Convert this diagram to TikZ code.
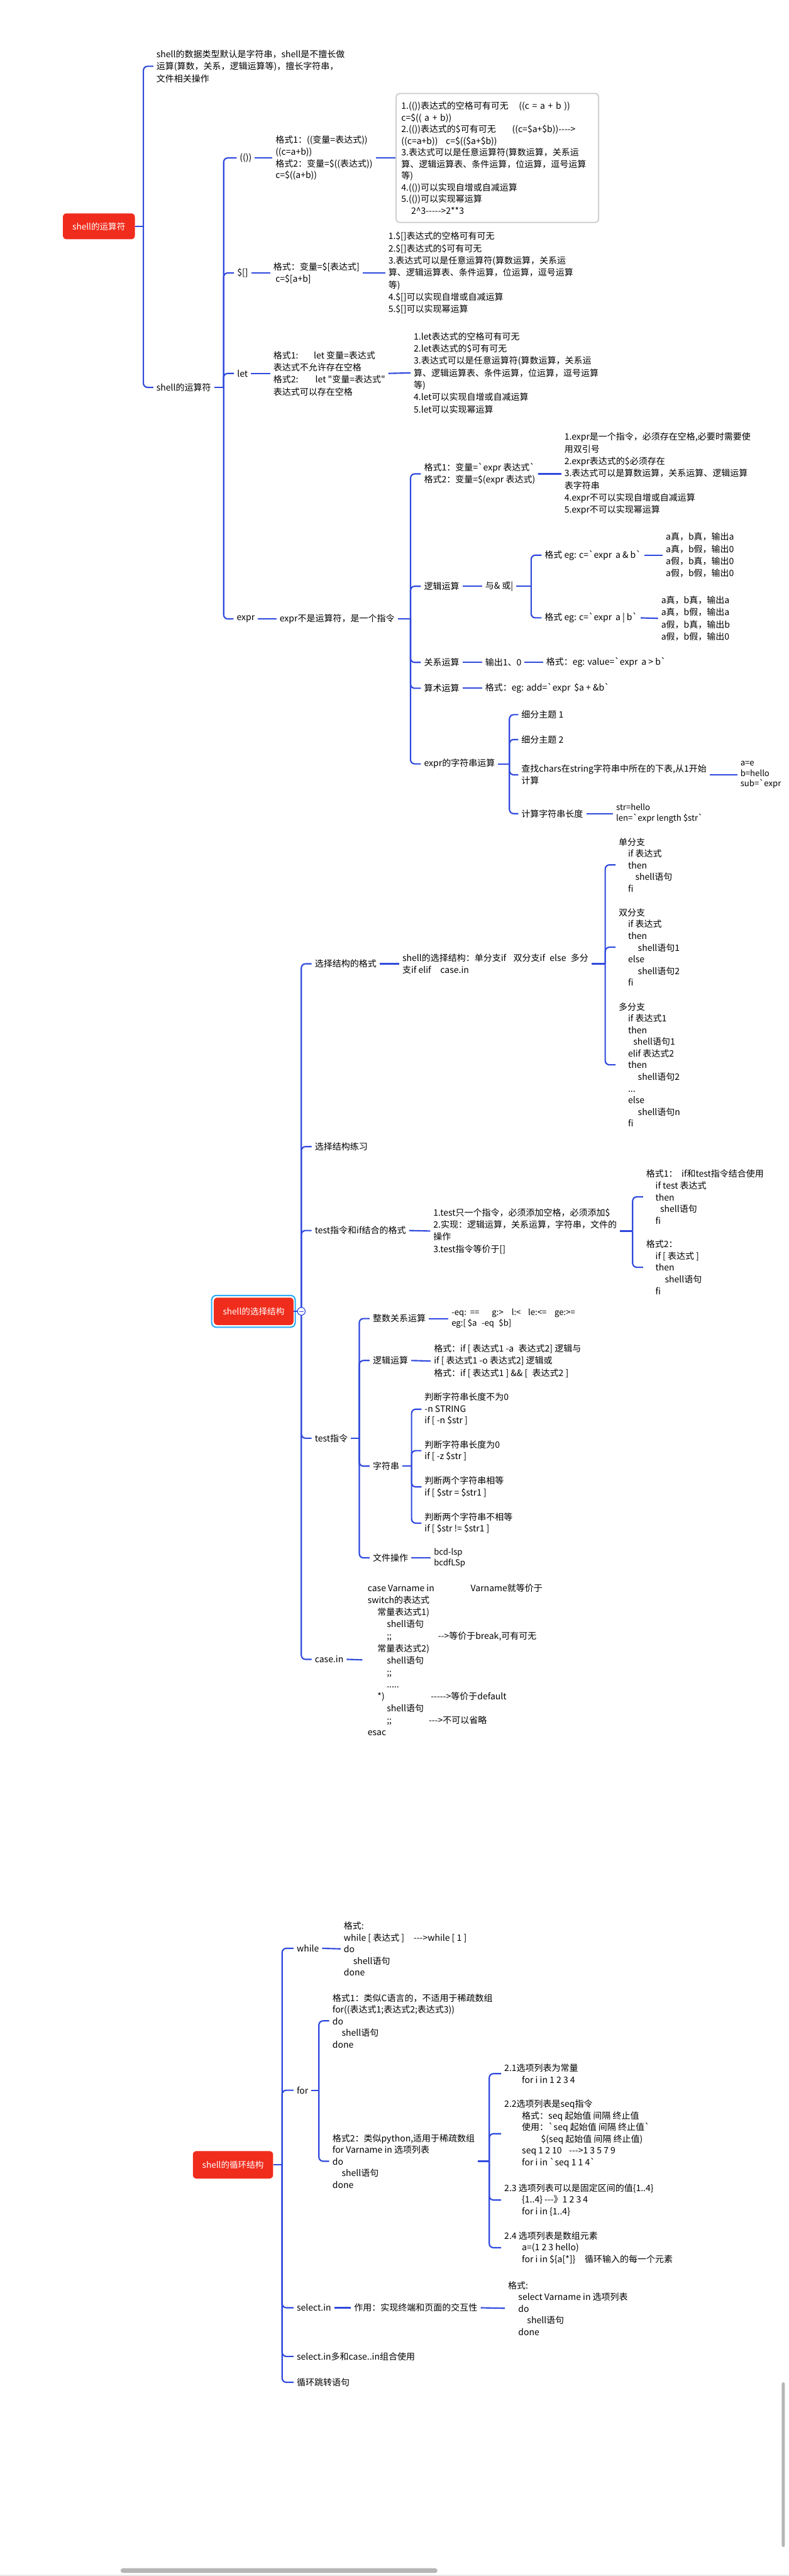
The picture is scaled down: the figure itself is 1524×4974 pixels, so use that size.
\documentclass[tikz,border=0pt]{standalone}
\usepackage{fontspec}
\usepackage{tikz}
\usetikzlibrary{positioning}
\newfontfamily\cjk{Noto Sans CJK SC}
\definecolor{mapRed}{RGB}{240,44,28}
\definecolor{mapBlue}{RGB}{46,72,222}
\definecolor{mapGray}{RGB}{208,208,208}
\definecolor{mapCyan}{RGB}{40,170,250}
\definecolor{barGray}{RGB}{182,182,182}
\tikzset{
  topic/.style={fill=mapRed, text=white, rounded corners=7pt, inner sep=0pt,
    font=\cjk\fontsize{16.5}{21}\selectfont},
  leaf/.style={anchor=west, align=left, inner xsep=6pt, inner ysep=1pt,
    font=\cjk\fontsize{17}{23.5}\selectfont},
  snug/.style={font=\cjk\fontsize{17}{22.5}\selectfont},
  codetext/.style={font=\cjk\fontsize{16}{20.5}\selectfont},
  branch/.style={draw=mapBlue, line width=2.6pt, rounded corners=8pt},
}

\begin{document}
\begin{tikzpicture}[x=1pt,y=-1pt]
    % page
    \fill[white] (0,0) rectangle (1524,4974);
    \useasboundingbox (0,0) rectangle (1524,4974);

    % ===== shell的运算符 =====
    \node[topic, minimum width=139pt, minimum height=50pt] (op) at (191,437) {shell的运算符};
    \coordinate (opT) at (277,437);
    \node[leaf] (opNote) at (296,128) {shell的数据类型默认是字符串，shell是不擅长做\\运算(算数，关系，逻辑运算等)，擅长字符串，\\文件相关操作};
    \node[leaf] (opKind) at (296,748) {shell的运算符};
    \draw[branch] (op.east) -- (opT);
    \foreach \c in {opNote,opKind} \draw[branch] (opT) |- (\c.west);

    % kinds of operators
    \coordinate (kindT) at (432,748);
    \node[leaf] (pp) at (457,305) {(())};
    \node[leaf] (br) at (452,527) {\$[]};
    \node[leaf] (letK) at (452,721) {let};
    \node[leaf] (ex) at (451,1195) {expr};
    \draw[branch] (opKind.east) -- (kindT);
    \foreach \c in {pp,br,letK,ex} \draw[branch] (kindT) |- (\c.west);

    % (( ))
    \node[leaf, snug] (ppFmt) at (526,305) {格式1：((变量=表达式))\\((c=a+b))\\格式2：变量=\$((表达式))\\c=\$((a+b))};
    \node[leaf, snug, draw=mapGray, line width=2.5pt, rounded corners=6pt, text width=371pt,
      inner xsep=10pt, minimum height=249pt] (ppBox) at (764,305)
      {\makebox[227pt][l]{1.(())表达式的空格可有可无}((c = a + b ))\\
       c=\$(( a + b))\\
       \makebox[214pt][l]{2.(())表达式的\$可有可无}((c=\$a+\$b))---->\\
       \makebox[86pt][l]{((c=a+b))}c=\$((\$a+\$b))\\
       3.表达式可以是任意运算符(算数运算，关系运\\
       算、逻辑运算表、条件运算，位运算，逗号运算\\
       等)\\
       4.(())可以实现自增或自减运算\\
       5.(())可以实现幂运算\\
       \hspace*{19pt}2\textasciicircum 3----->2**3};
    \draw[branch] (pp.east) -- (ppFmt.west);
    \draw[branch] (ppFmt.east) -- (ppBox.west);

    % $[ ]
    \node[leaf] (brFmt) at (522,527) {格式：变量=\$[表达式]\\\hspace*{4pt}c=\$[a+b]};
    \node[leaf] (brList) at (744,527) {1.\$[]表达式的空格可有可无\\2.\$[]表达式的\$可有可无\\3.表达式可以是任意运算符(算数运算，关系运\\算、逻辑运算表、条件运算，位运算，逗号运算\\等)\\4.\$[]可以实现自增或自减运算\\5.\$[]可以实现幂运算};
    \draw[branch] (br.east) -- (brFmt.west);
    \draw[branch] (brFmt.east) -- (brList.west);

    % let
    \node[leaf] (letFmt) at (522,721) {\makebox[78pt][l]{格式1:}let 变量=表达式\\表达式不允许存在空格\\\makebox[81pt][l]{格式2:}let "变量=表达式"\\表达式可以存在空格};
    \node[leaf] (letList) at (793,720) {1.let表达式的空格可有可无\\2.let表达式的\$可有可无\\3.表达式可以是任意运算符(算数运算，关系运\\算、逻辑运算表、条件运算，位运算，逗号运算\\等)\\4.let可以实现自增或自减运算\\5.let可以实现幂运算};
    \draw[branch] (letK.east) -- (letFmt.west);
    \draw[branch] (letFmt.east) -- (letList.west);

    % expr
    \node[leaf] (exCmd) at (534,1195) {expr不是运算符，是一个指令};
    \coordinate (exT) at (793,1195);
    \draw[branch] (ex.east) -- (exCmd.west);
    \draw[branch] (exCmd.east) -- (exT);
    \node[leaf] (exFmt) at (813,915) {格式1：变量=`expr 表达式`\\格式2：变量=\$(expr 表达式)};
    \node[leaf] (exLog) at (813,1132) {逻辑运算};
    \node[leaf] (exRel) at (813,1279) {关系运算};
    \node[leaf] (exAri) at (813,1329) {算术运算};
    \node[leaf] (exStr) at (813,1475) {expr的字符串运算};
    \foreach \c in {exFmt,exLog,exRel,exAri,exStr} \draw[branch] (exT) |- (\c.west);

    \node[leaf] (exList) at (1084,915) {1.expr是一个指令，必须存在空格,必要时需要使\\用双引号\\2.expr表达式的\$必须存在\\3.表达式可以是算数运算，关系运算、逻辑运算\\表字符串\\4.expr不可以实现自增或自减运算\\5.expr不可以实现幂运算};
    \draw[branch] (exFmt.east) -- (exList.west);

    \node[leaf] (exLogOp) at (931,1132) {与\& 或|};
    \coordinate (logT) at (1026,1132);
    \node[leaf] (logAnd) at (1046,1072) {格式 eg: c=`expr\hspace{7pt}a \& b`};
    \node[leaf] (logOr) at (1046,1193) {格式 eg: c=`expr\hspace{7pt}a | b`};
    \node[leaf] (logAndL) at (1280,1072) {a真，b真，输出a\\a真，b假，输出0\\a假，b真，输出0\\a假，b假，输出0};
    \node[leaf] (logOrL) at (1271,1194) {a真，b真，输出a\\a真，b假，输出a\\a假，b真，输出b\\a假，b假，输出0};
    \draw[branch] (exLog.east) -- (exLogOp.west);
    \draw[branch] (exLogOp.east) -- (logT);
    \foreach \c in {logAnd,logOr} \draw[branch] (logT) |- (\c.west);
    \draw[branch] (logAnd.east) -- (logAndL.west);
    \draw[branch] (logOr.east) -- (logOrL.west);

    \node[leaf] (exRelOut) at (931,1279) {输出1、0};
    \node[leaf] (exRelFmt) at (1049,1279) {格式：eg: value=`expr\hspace{7pt}a > b`};
    \draw[branch] (exRel.east) -- (exRelOut.west);
    \draw[branch] (exRelOut.east) -- (exRelFmt.west);

    \node[leaf] (exAriFmt) at (931,1329) {格式：eg: add=`expr\hspace{7pt}\$a + \&b`};
    \draw[branch] (exAri.east) -- (exAriFmt.west);

    \coordinate (strT) at (984,1475);
    \node[leaf] (strA) at (1001,1380) {细分主题 1};
    \node[leaf] (strB) at (1001,1428) {细分主题 2};
    \node[leaf] (strC) at (1001,1496) {查找chars在string字符串中所在的下表,从1开始\\计算};
    \node[leaf] (strD) at (1001,1571) {计算字符串长度};
    \draw[branch] (exStr.east) -- (strT);
    \foreach \c in {strA,strB,strC,strD} \draw[branch] (strT) |- (\c.west);
    \node[leaf, codetext] (strCv) at (1424,1496) {a=e\\b=hello\\sub=`expr};
    \node[leaf, codetext] (strDv) at (1184,1571) {str=hello\\len=`expr length \$str`};
    \draw[branch] (strC.east) -- (strCv.west);
    \draw[branch] (strD.east) -- (strDv.west);

    % ===== shell的选择结构 =====
    \node[topic, minimum width=154pt, minimum height=53pt] (sel) at (490,2532) {shell的选择结构};
    \draw[mapCyan, line width=2.5pt, rounded corners=9pt]
        ([shift={(-4pt,4pt)}]sel.north west) rectangle ([shift={(3pt,-4pt)}]sel.south east);
    \coordinate (selT) at (582,2532);
    \node[leaf] (selA) at (602,1861) {选择结构的格式};
    \node[leaf] (selB) at (602,2214) {选择结构练习};
    \node[leaf] (selC) at (602,2376) {test指令和if结合的格式};
    \node[leaf] (selD) at (602,2777) {test指令};
    \node[leaf] (selE) at (602,3204) {case.in};
    \draw[branch] (sel.east) -- (selT);
    \foreach \c in {selA,selB,selC,selD,selE} \draw[branch] (selT) |- (\c.west);
    \node[circle, draw=mapBlue, fill=white, line width=1.4pt, minimum size=15pt, inner sep=0pt] (selFold) at (582,2532) {};
    \draw[mapBlue, line width=1.4pt] ([xshift=-4pt]selFold.center) -- ([xshift=4pt]selFold.center);

    % if formats
    \node[leaf] (selAv) at (771,1861) {shell的选择结构：单分支if\hspace{14pt}双分支if\hspace{9pt}else\hspace{9pt}多分\\支if elif\hspace{18pt}case.in};
    \coordinate (ifT) at (1169,1861);
    \node[leaf, snug] (ifOne) at (1189,1670) {单分支\\\hspace*{18pt}if 表达式\\\hspace*{18pt}then\\\hspace*{32pt}shell语句\\\hspace*{18pt}fi};
    \node[leaf, snug] (ifTwo) at (1189,1829) {双分支\\\hspace*{18pt}if 表达式\\\hspace*{18pt}then\\\hspace*{37pt}shell语句1\\\hspace*{18pt}else\\\hspace*{37pt}shell语句2\\\hspace*{18pt}fi};
    \node[leaf, snug] (ifMulti) at (1189,2056) {多分支\\\hspace*{18pt}if 表达式1\\\hspace*{18pt}then\\\hspace*{28pt}shell语句1\\\hspace*{18pt}elif 表达式2\\\hspace*{18pt}then\\\hspace*{37pt}shell语句2\\\hspace*{18pt}...\\\hspace*{18pt}else\\\hspace*{37pt}shell语句n\\\hspace*{18pt}fi};
    \draw[branch] (selA.east) -- (selAv.west);
    \draw[branch] (selAv.east) -- (ifT);
    \foreach \c in {ifOne,ifTwo,ifMulti} \draw[branch] (ifT) |- (\c.west);

    % test and if
    \node[leaf] (selCv) at (831,2377) {1.test只一个指令，必须添加空格，必须添加\$\\2.实现：逻辑运算，关系运算，字符串，文件的\\操作\\3.test指令等价于[]};
    \coordinate (tfT) at (1222,2377);
    \node[leaf, snug] (tfOne) at (1242,2311) {格式1：\hspace{8pt}if和test指令结合使用\\\hspace*{18pt}if test 表达式\\\hspace*{18pt}then\\\hspace*{27pt}shell语句\\\hspace*{18pt}fi};
    \node[leaf, snug] (tfTwo) at (1242,2447) {格式2：\\\hspace*{18pt}if [ 表达式 ]\\\hspace*{18pt}then\\\hspace*{36pt}shell语句\\\hspace*{18pt}fi};
    \draw[branch] (selC.east) -- (selCv.west);
    \draw[branch] (selCv.east) -- (tfT);
    \foreach \c in {tfOne,tfTwo} \draw[branch] (tfT) |- (\c.west);

    % test
    \coordinate (testT) at (694,2777);
    \node[leaf] (tInt) at (714,2546) {整数关系运算};
    \node[leaf] (tLog) at (714,2627) {逻辑运算};
    \node[leaf] (tStr) at (714,2831) {字符串};
    \node[leaf] (tFile) at (714,3008) {文件操作};
    \draw[branch] (selD.east) -- (testT);
    \foreach \c in {tInt,tLog,tStr,tFile} \draw[branch] (testT) |- (\c.west);
    \node[leaf, codetext] (tIntV) at (866,2546) {\makebox[36pt][l]{-eq:}\makebox[42pt][l]{==}\makebox[38pt][l]{g:>}\makebox[32pt][l]{l:<}\makebox[51pt][l]{le:<=}ge:>=\\eg:[ \$a\hspace{9pt}-eq\hspace{9pt}\$b]};
    \node[leaf] (tLogV) at (832,2628) {格式：if [ 表达式1 -a\hspace{9pt}表达式2] 逻辑与\\if [ 表达式1 -o 表达式2] 逻辑或\\格式：if [ 表达式1 ] \&\& [\hspace{9pt}表达式2 ]};
    \node[leaf, codetext] (tFileV) at (832,3008) {bcd-lsp\\bcdfLSp};
    \draw[branch] (tInt.east) -- (tIntV.west);
    \draw[branch] (tLog.east) -- (tLogV.west);
    \draw[branch] (tFile.east) -- (tFileV.west);

    \coordinate (tStrT) at (795,2831);
    \node[leaf, snug] (sOne) at (814,2721) {判断字符串长度不为0\\-n STRING\\if [ -n \$str ]};
    \node[leaf, snug] (sTwo) at (814,2801) {判断字符串长度为0\\if [ -z \$str ]};
    \node[leaf, snug] (sThree) at (814,2871) {判断两个字符串相等\\if [ \$str = \$str1 ]};
    \node[leaf, snug] (sFour) at (814,2941) {判断两个字符串不相等\\if [ \$str != \$str1 ]};
    \draw[branch] (tStr.east) -- (tStrT);
    \foreach \c in {sOne,sTwo,sThree,sFour} \draw[branch] (tStrT) |- (\c.west);

    % case
    \node[leaf, font=\cjk\fontsize{17}{23.2}\selectfont] (caseV) at (704,3205)
      {\makebox[199pt][l]{case Varname in}Varname就等价于\\
       switch的表达式\\
       \hspace*{19pt}常量表达式1)\\
       \hspace*{37pt}shell语句\\
       \hspace*{37pt}\makebox[99pt][l]{;;}-->等价于break,可有可无\\
       \hspace*{19pt}常量表达式2)\\
       \hspace*{37pt}shell语句\\
       \hspace*{37pt};;\\
       \hspace*{37pt}.....\\
       \hspace*{19pt}\makebox[103pt][l]{*)}----->等价于default\\
       \hspace*{37pt}shell语句\\
       \hspace*{37pt}\makebox[81pt][l]{;;}--->不可以省略\\
       esac};
    \draw[branch] (selE.east) -- ([xshift=-4pt]caseV.west);

    % ===== shell的循环结构 =====
    \node[topic, minimum width=155pt, minimum height=53pt] (loop) at (450,4180) {shell的循环结构};
    \coordinate (loopT) at (545,4180);
    \node[leaf] (lWhile) at (567,3762) {while};
    \node[leaf] (lFor) at (567,4036) {for};
    \node[leaf] (lSel) at (567,4456) {select.in};
    \node[leaf] (lMix) at (567,4550) {select.in多和case..in组合使用};
    \node[leaf] (lJump) at (567,4600) {循环跳转语句};
    \draw[branch] (loop.east) -- (loopT);
    \foreach \c in {lWhile,lFor,lSel,lMix,lJump} \draw[branch] (loopT) |- (\c.west);

    % while
    \node[leaf, snug] (whileV) at (658,3763) {格式:\\while [ 表达式 ]\hspace{18pt}--->while [ 1 ]\\do\\\hspace*{18pt}shell语句\\done};
    \draw[branch] (lWhile.east) -- (whileV.west);

    % for
    \coordinate (forT) at (616,4036);
    \node[leaf, snug] (forOne) at (636,3902) {格式1：类似C语言的，不适用于稀疏数组\\for((表达式1;表达式2;表达式3))\\do\\\hspace*{18pt}shell语句\\done};
    \node[leaf, snug] (forTwo) at (636,4173) {格式2：类似python,适用于稀疏数组\\for Varname in 选项列表\\do\\\hspace*{18pt}shell语句\\done};
    \draw[branch] (lFor.east) -- (forT);
    \foreach \c in {forOne,forTwo} \draw[branch] (forT) |- (\c.west);

    \coordinate (optT) at (945,4173);
    \node[leaf, snug] (optA) at (968,4004) {2.1选项列表为常量\\\hspace*{34pt}for i in 1 2 3 4};
    \node[leaf, snug] (optB) at (968,4120) {2.2选项列表是seq指令\\\hspace*{34pt}格式：seq 起始值 间隔 终止值\\\hspace*{34pt}使用：`seq 起始值 间隔 终止值`\\\hspace*{71pt}\$(seq 起始值 间隔 终止值)\\\hspace*{34pt}seq 1 2 10\hspace{14pt}--->1 3 5 7 9\\\hspace*{34pt}for i in `seq 1 1 4`};
    \node[leaf, snug] (optC) at (968,4248) {2.3 选项列表可以是固定区间的值\{1..4\}\\\hspace*{34pt}\{1..4\} ---》1 2 3 4\\\hspace*{34pt}for i in \{1..4\}};
    \node[leaf, snug] (optD) at (968,4340) {2.4 选项列表是数组元素\\\hspace*{34pt}a=(1 2 3 hello)\\\hspace*{34pt}for i in \$\{a[*]\}\hspace{18pt}循环输入的每一个元素};
    \draw[branch] (forTwo.east) -- (optT);
    \foreach \c in {optA,optB,optC,optD} \draw[branch] (optT) |- (\c.west);

    % select
    \node[leaf] (lSelUse) at (678,4456) {作用：实现终端和页面的交互性};
    \node[leaf, snug] (lSelV) at (975,4457) {格式:\\\hspace*{20pt}select Varname in 选项列表\\\hspace*{20pt}do\\\hspace*{37pt}shell语句\\\hspace*{20pt}done};
    \draw[branch] (lSel.east) -- (lSelUse.west);
    \draw[branch] (lSelUse.east) -- (lSelV.west);

    % window scrollbars
    \fill[barGray, rounded corners=4.5pt] (233,4959) rectangle (845,4968);
    \fill[barGray, rounded corners=3pt] (1510,4600) rectangle (1516,4918);
    \fill[black!9] (0,4971) rectangle (1524,4974);
\end{tikzpicture}
\end{document}
